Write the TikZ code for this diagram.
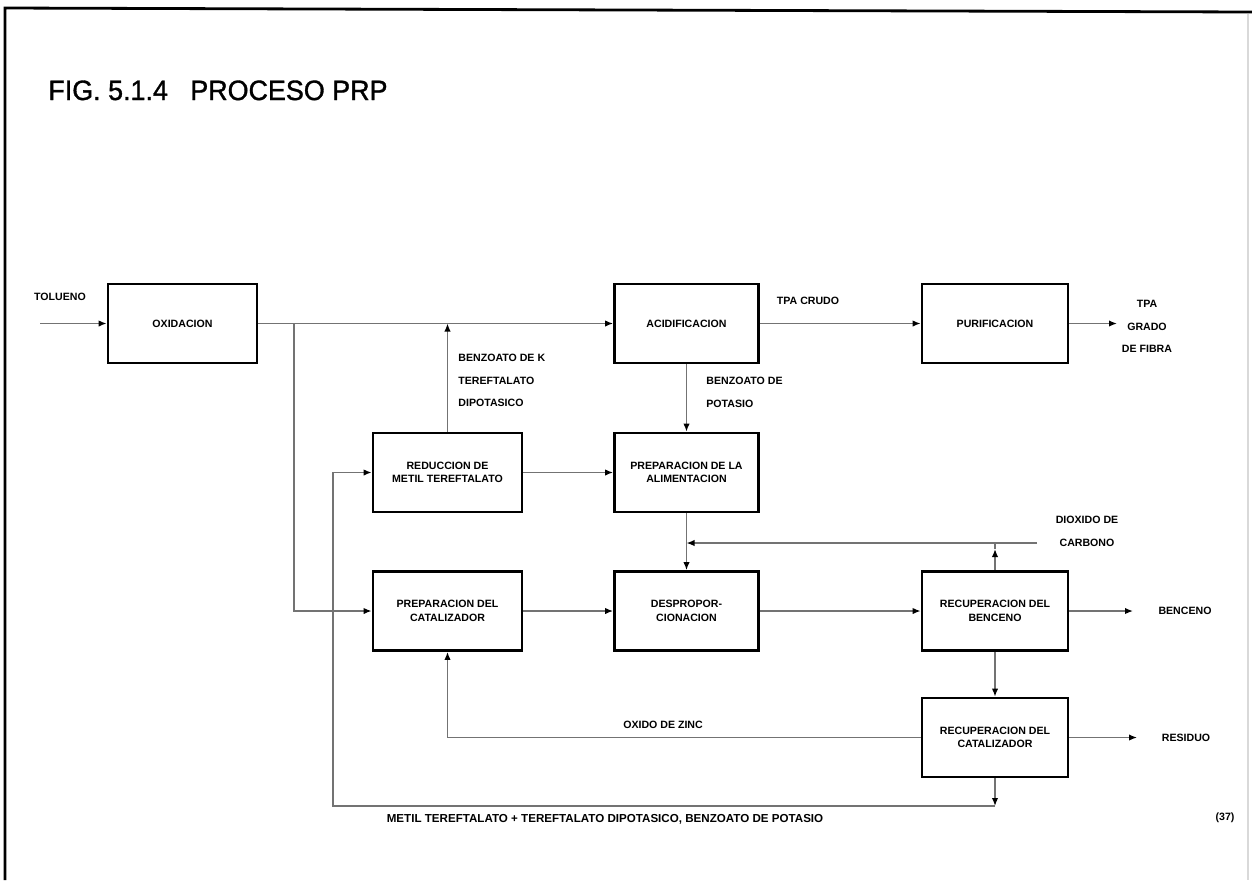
\documentclass[tikz,border=0pt]{standalone}
\usepackage{fontspec}
\setmainfont{Liberation Sans}
\newfontfamily\titlefont[FakeBold=1.2,FakeStretch=0.96]{Liberation Sans}
\usetikzlibrary{arrows.meta}
\begin{document}
\begin{tikzpicture}[x=0.5pt,y=-0.5pt,
  blk/.style={draw=black,line width=1.4pt,fill=white,minimum height=39.5pt,
    inner sep=0pt,align=center,font=\bfseries\fontsize{5.3}{6.8}\selectfont},
  wA/.style={minimum width=74.5pt},
  wB/.style={minimum width=72pt},
  wC/.style={minimum width=73pt},
  conn/.style={draw=black!55,line width=0.7pt},
  flow/.style={conn,-{Latex[length=4pt,width=3.2pt,color=black]}},
  lab/.style={font=\bfseries\fontsize{5.3}{11.25}\selectfont,inner sep=0pt},
]
\useasboundingbox (0,0) rectangle (1252,880);

% page frame
\draw[line width=1.4pt] (5,880) -- (5,8) -- (1252,12);
\draw[black!15,line width=0.8pt] (1248,14) -- (1248,880);

% title
\node[anchor=base west,inner sep=0pt,font=\titlefont\fontsize{14}{16}\selectfont] (title)
  at (48,100) {FIG. 5.1.4\ \ \ PROCESO PRP};

% process blocks
\node[blk,wA] (ox)   at (182.5,323.5) {OXIDACION};
\node[blk,wB] (acid) at (686.5,323.5) {ACIDIFICACION};
\node[blk,wC] (pur)  at (995,323.5)   {PURIFICACION};
\node[blk,wA] (red)  at (447.5,472.5) {REDUCCION DE\\METIL TEREFTALATO};
\node[blk,wB] (alim) at (686.5,472.5) {PREPARACION DE LA\\ALIMENTACION};
\node[blk,wA] (pcat) at (447.5,611)   {PREPARACION DEL\\CATALIZADOR};
\node[blk,wB] (desp) at (686.5,611)   {DESPROPOR-\\CIONACION};
\node[blk,wC] (rben) at (995,611)     {RECUPERACION DEL\\BENCENO};
\node[blk,wC] (rcat) at (995,737.5)   {RECUPERACION DEL\\CATALIZADOR};

% free ends of streams
\coordinate (tolin)  at (40,323.5);
\coordinate (br)     at (294,323.5);
\coordinate (tpaout) at (1117,323.5);
\coordinate (co2in)  at (1037,543);
\coordinate (co2tip) at (995,549);
\coordinate (benout) at (1133,611);
\coordinate (resout) at (1137,737.5);
\coordinate (loopc)  at (995,806);
\coordinate (loopl)  at (333,806);

% streams
\draw[flow] (tolin) -- (ox.west);
\draw[flow] (ox.east) -- (acid.west);
\draw[flow] (br) |- (pcat.west);
\draw[flow] (red.north) -- (red.north |- ox.east);
\draw[flow] (acid.east) -- (pur.west);
\draw[flow] (pur.east) -- (tpaout);
\draw[flow] (acid.south) -- (alim.north);
\draw[flow] (red.east) -- (alim.west);
\draw[flow] (alim.south) -- (desp.north);
\draw[flow] (co2in) -- (co2in -| alim.south);
\draw[flow] (rben.north) -- (co2tip);
\draw[conn] (co2tip) -- (rben.north |- co2in);
\draw[flow] (pcat.east) -- (desp.west);
\draw[flow] (desp.east) -- (rben.west);
\draw[flow] (rben.east) -- (benout);
\draw[flow] (rben.south) -- (rcat.north);
\draw[flow] (rcat.east) -- (resout);
\draw[flow] (rcat.west) -| (pcat.south);
\draw[flow] (rcat.south) -- (loopc);
\draw[flow] (loopc) -- (loopl) |- (red.west);

% stream labels
\node[lab] (ltol) at (60,297) {TOLUENO};
\node[lab,anchor=west,align=left] (lbk) at (458,380.5) {BENZOATO DE K\\TEREFTALATO\\DIPOTASICO};
\node[lab] (ltpa) at (808,301) {TPA CRUDO};
\node[lab,align=center] (lgrado) at (1147,326.5) {TPA\\GRADO\\DE FIBRA};
\node[lab,anchor=west,align=left] (lbp) at (706,392.5) {BENZOATO DE\\POTASIO};
\node[lab,align=center,font=\bfseries\fontsize{5.3}{11.5}\selectfont] (lco2) at (1087,531.5) {DIOXIDO DE\\CARBONO};
\node[lab] (lben) at (1185,611) {BENCENO};
\node[lab] (lzn) at (663,725) {OXIDO DE ZINC};
\node[lab] (lres) at (1186,737.5) {RESIDUO};
\node[lab,font=\bfseries\fontsize{5.8}{7}\selectfont] (lbot) at (605,819)
  {METIL TEREFTALATO + TEREFTALATO DIPOTASICO, BENZOATO DE POTASIO};
\node[lab] (lpag) at (1225,818) {(37)};
\end{tikzpicture}
\end{document}
